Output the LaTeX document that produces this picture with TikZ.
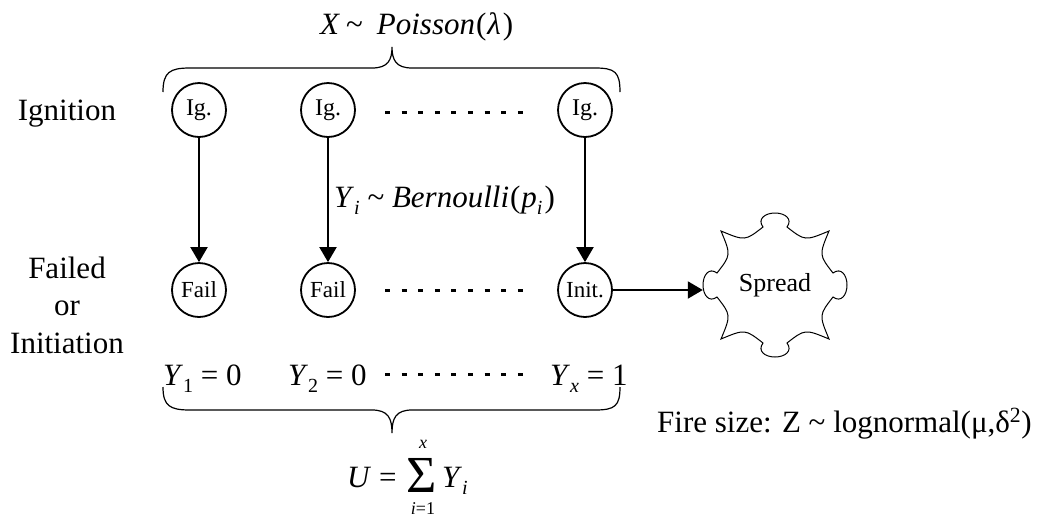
\documentclass[tikz,border=0pt]{standalone}
\usepackage{fontspec}
\setmainfont{Liberation Serif}
\usetikzlibrary{arrows.meta}
\newcommand\sbs[1]{\raisebox{-7pt}{\fontsize{20}{20}\selectfont #1}}
\newcommand\tld{\textasciitilde}
\begin{document}
\begin{tikzpicture}[x=1pt,y=-1pt,
  state/.style={circle,draw,line width=1.8pt,minimum size=54pt,inner sep=0pt,font=\fontsize{23}{23}\selectfont},
  flow/.style={line width=2pt,-{Triangle[width=17pt,length=15pt]}},
  dotrow/.style={line width=3pt,dash pattern=on 5pt off 11.6pt},
  brace/.style={line width=1.2pt},
  big/.style={font=\fontsize{31}{37.5}\selectfont,inner sep=0pt},
  small/.style={font=\fontsize{18}{18}\selectfont,inner sep=0pt,text depth=0pt},
]
\useasboundingbox (0,0) rectangle (1046,520);

% row labels
\node[big,anchor=base] (ign) at (67,120) {Ignition};
\node[big,align=center] (fail) at (67,305) {Failed\\or\\Initiation};

% ignition nodes
\node[state,font=\fontsize{24}{24}\selectfont] (ig1) at (199,110) {Ig.};
\node[state,font=\fontsize{24}{24}\selectfont] (ig2) at (328,110) {Ig.};
\node[state,font=\fontsize{24}{24}\selectfont] (ig3) at (585,110) {Ig.};
% outcome nodes
\node[state] (f1) at (199,290) {Fail};
\node[state] (f2) at (328,290) {Fail};
\node[state] (in) at (585,290) {Init.};

\draw[flow] (ig1) -- (f1);
\draw[flow] (ig2) -- (f2);
\draw[flow] (ig3) -- (in);

% dotted rows
\coordinate (a1) at (385,112); \coordinate (b1) at (523,112);
\coordinate (a2) at (385,290); \coordinate (b2) at (523,290);
\coordinate (a3) at (385,374); \coordinate (b3) at (523,374);
\draw[dotrow] (a1) -- (b1);
\draw[dotrow] (a2) -- (b2);
\draw[dotrow] (a3) -- (b3);

% spread
\node[circle,minimum size=144pt,inner sep=0pt,font=\fontsize{26}{26}\selectfont] (sp) at (775,285) {Spread};
\begin{scope}[shift={(sp.center)}]
\draw[line width=1pt]
  (-54,-54) .. controls (-30,-44) .. (-12,-58)
  .. controls (-18,-66) and (-10,-72) .. (0,-72)
  .. controls (10,-72) and (18,-66) .. (12,-58)
  .. controls (30,-44) .. (54,-54)
  .. controls (44,-30) .. (58,-12)
  .. controls (66,-18) and (72,-10) .. (72,0)
  .. controls (72,10) and (66,18) .. (58,12)
  .. controls (44,30) .. (54,54)
  .. controls (30,44) .. (12,58)
  .. controls (18,66) and (10,72) .. (0,72)
  .. controls (-10,72) and (-18,66) .. (-12,58)
  .. controls (-30,44) .. (-54,54)
  .. controls (-44,30) .. (-58,12)
  .. controls (-66,18) and (-72,10) .. (-72,0)
  .. controls (-72,-10) and (-66,-18) .. (-58,-12)
  .. controls (-44,-30) .. (-54,-54) -- cycle;
\end{scope}
\draw[flow] (in) -- (in -| sp.west);

% title and top brace
\node[big,anchor=base west] (title) at (320,34) {\textit{X}\hspace{6pt}\tld\hspace{14pt}\textit{Poisson}\hspace{1pt}(\hspace{1pt}\textit{λ}\hspace{2pt})};
\draw[brace] (163,92) .. controls (163,72) and (170,68) .. (190,68) -- (372,68)
  .. controls (388,68) and (392,60) .. (392,47)
  .. controls (392,60) and (396,68) .. (412,68) -- (595,68)
  .. controls (615,68) and (620,72) .. (620,92);

% Bernoulli label
\node[big,anchor=base west] (bern) at (334,207) {\textit{Y}\sbs{\textit{i}} \tld{} \textit{Bernoulli}\hspace{1pt}(\hspace{1pt}\textit{p}\sbs{\textit{i}}\hspace{2pt})};

% Y row
\node[big,anchor=base west] (y1) at (163,385) {\textit{Y}\sbs{1} = 0};
\node[big,anchor=base west] (y2) at (288,385) {\textit{Y}\sbs{2} = 0};
\node[big,anchor=base west] (yx) at (550,385) {\textit{Y}\sbs{\textit{x}} = 1};

% bottom brace
\draw[brace] (163,387) .. controls (163,406) and (170,410) .. (190,410) -- (372,410)
  .. controls (388,410) and (392,418) .. (392,433)
  .. controls (392,418) and (396,410) .. (412,410) -- (595,410)
  .. controls (615,410) and (620,406) .. (620,387);

% U = sum
\node[big,anchor=base west] (u) at (347,487) {\textit{U} =};
\node[font=\fontsize{52}{52}\selectfont,anchor=base,inner sep=0pt,text height=34pt,text depth=0pt] (sig) at (422,492) {Σ};
\node[small,anchor=base,text height=9pt] (up) at (423,448) {\textit{x}};
\node[small,anchor=base,text height=12pt] (lo) at (423,514) {\textit{i}=1};
\node[big,anchor=base west] (yi) at (442,487) {\textit{Y}\sbs{\textit{i}}};

% fire size
\node[big,anchor=base west] (fs) at (657,432) {Fire size: Z \tld{} lognormal(μ,δ\textsuperscript{2})};
\end{tikzpicture}
\end{document}
